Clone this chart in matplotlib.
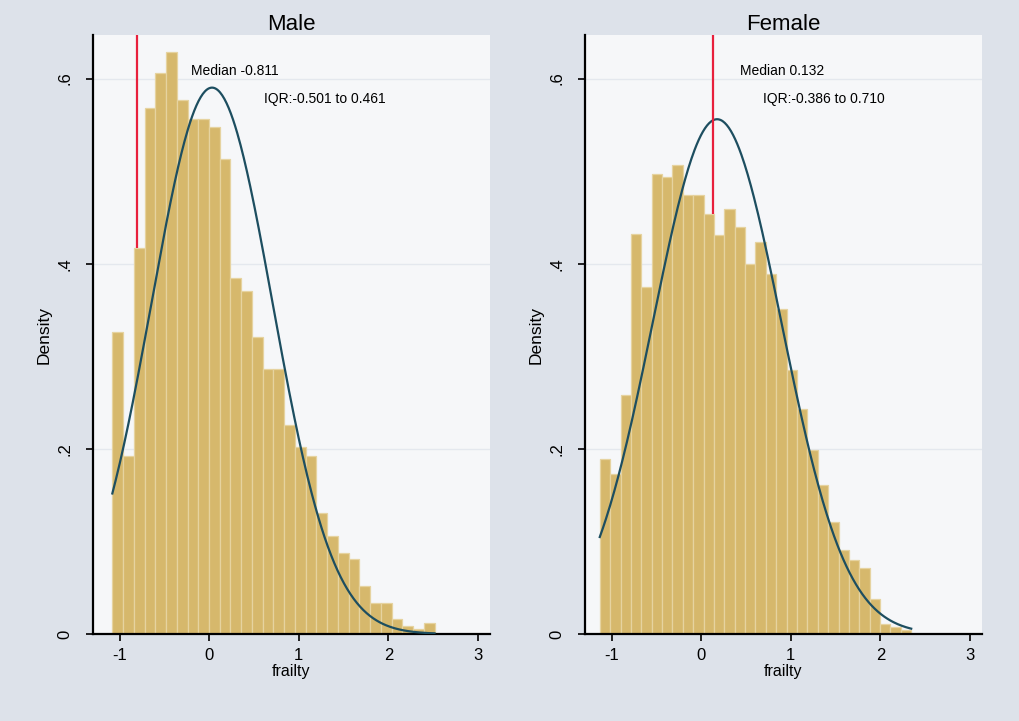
import numpy as np
import matplotlib
matplotlib.use("Agg")
import matplotlib.pyplot as plt

plt.rcParams['font.family'] = ['Liberation Sans', 'DejaVu Sans']
plt.rcParams['axes.unicode_minus'] = False

# histogram densities (left edge of first bin + bin width)
male_start = -1.084
male_width = 0.12
male_density = [0.326, 0.192, 0.417, 0.568, 0.606, 0.629, 0.577, 0.556, 0.556, 0.548,
                0.513, 0.385, 0.370, 0.321, 0.286, 0.286, 0.226, 0.202, 0.192, 0.131,
                0.106, 0.088, 0.081, 0.052, 0.033, 0.033, 0.016, 0.009, 0.005, 0.012]

female_start = -1.135
female_width = 0.116
female_density = [0.189, 0.173, 0.258, 0.432, 0.375, 0.497, 0.494, 0.507, 0.474, 0.474,
                  0.454, 0.431, 0.459, 0.440, 0.400, 0.423, 0.389, 0.351, 0.285, 0.243,
                  0.199, 0.161, 0.121, 0.091, 0.080, 0.071, 0.038, 0.011, 0.008, 0.004]

# fitted normal overlay
male_mean, male_sd = 0.03, 0.676
female_mean, female_sd = 0.176, 0.7175

male_median = -0.811
female_median = 0.132
male_iqr = "IQR:-0.501 to 0.461"
female_iqr = "IQR:-0.386 to 0.710"

x_ticks = [-1, 0, 1, 2, 3]
y_ticks = [0, 0.2, 0.4, 0.6]
y_ticklabels = ["0", ".2", ".4", ".6"]

bg = "#dde2ea"
plot_bg = "#f6f7f9"
bar_color = "#d6b86c"
curve_color = "#1d4e60"

fig = plt.figure(figsize=(10.2, 7.21), dpi=100, facecolor=bg)
ax1 = fig.add_axes([93 / 1020, 1 - 634 / 721, 397 / 1020, 599 / 721])
ax2 = fig.add_axes([585 / 1020, 1 - 634 / 721, 397 / 1020, 599 / 721])

# (axes, bins..., text anchor x for median label, x for IQR label)
panels = [
    (ax1, male_start, male_width, male_density, male_mean, male_sd, male_median, male_iqr, "Male", -0.2, 0.61),
    (ax2, female_start, female_width, female_density, female_mean, female_sd, female_median, female_iqr, "Female", 0.43, 0.69),
]

for ax, start, width, dens, mu, sd, med, iqr, title, tx1, tx2 in panels:
    dens = np.array(dens)
    edges = start + width * np.arange(len(dens))
    ax.set_facecolor(plot_bg)
    ax.set_xlim(-1.3, 3.136)
    ax.set_ylim(0, 0.647)
    for yt in y_ticks[1:]:
        ax.axhline(yt, color="#e4e8ee", lw=1, zorder=0)
    ax.bar(edges, dens, width=width, align="edge", color=bar_color,
           edgecolor="#e6d3a0", linewidth=0.9, zorder=2)
    end = edges[-1] + width
    xs = np.linspace(start, end, 300)
    ys = np.exp(-0.5 * ((xs - mu) / sd) ** 2) / (sd * np.sqrt(2 * np.pi))
    ax.plot(xs, ys, color=curve_color, lw=1.6, zorder=3)
    idx = int((med - start) // width)
    ax.vlines(med, dens[idx], 0.647, color="#e8203c", lw=1.6, zorder=4)
    ax.text(tx1, 0.608, "Median %s" % (f"{med:.3f}"), fontsize=10,
            ha="left", va="center", zorder=5)
    ax.text(tx2, 0.578, iqr, fontsize=10, ha="left", va="center", zorder=5)
    ax.set_title(title, fontsize=16, pad=2)
    ax.set_xticks(x_ticks)
    ax.set_yticks(y_ticks)
    ax.set_yticklabels(y_ticklabels, rotation=90, va="center")
    ax.tick_params(labelsize=12, length=5, width=1.2, direction="out")
    ax.tick_params(axis="x", pad=5)
    ax.tick_params(axis="y", pad=10)
    ax.set_xlabel("frailty", fontsize=11.5, labelpad=1)
    ax.set_ylabel("Density", fontsize=12.5, labelpad=4)
    for side in ["top", "right"]:
        ax.spines[side].set_visible(False)
    for side in ["left", "bottom"]:
        ax.spines[side].set_linewidth(1.6)

plt.savefig("out.png", dpi=100, facecolor=bg)
